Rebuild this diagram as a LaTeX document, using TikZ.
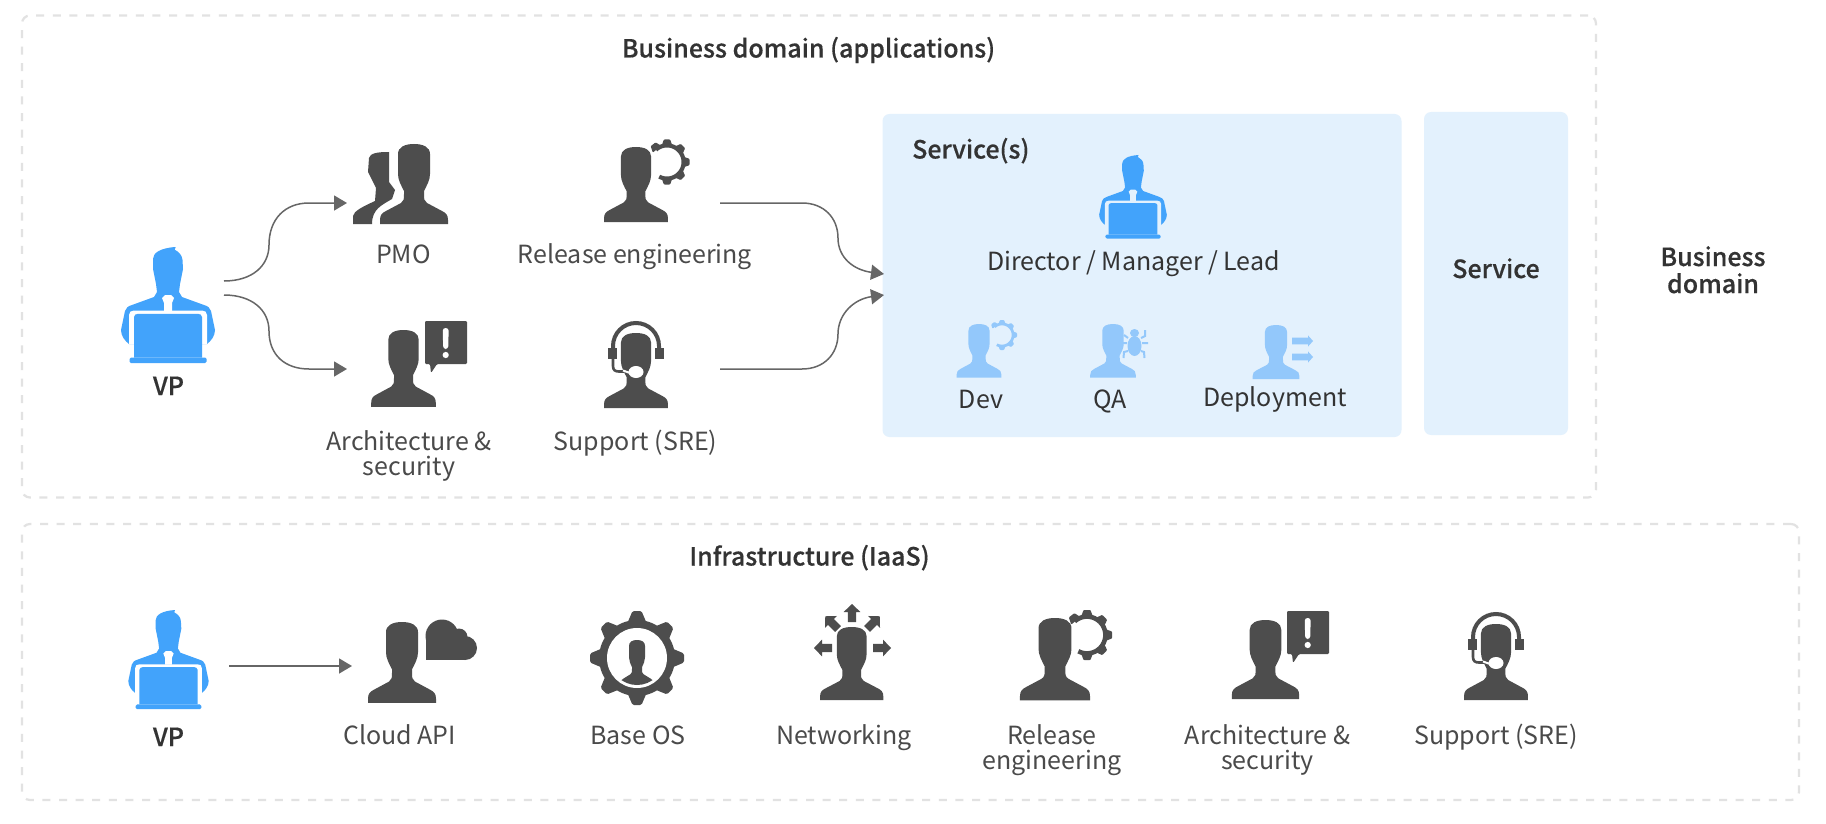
\documentclass[tikz,border=0pt]{standalone}
\usepackage{fontspec}
\setmainfont{Noto Sans CJK SC}
\newfontfamily\headfont[FakeBold=0.4]{Noto Sans CJK SC Medium}
\usetikzlibrary{arrows.meta}
\definecolor{iconDark}{HTML}{4D4D4D}
\definecolor{iconBlue}{HTML}{42A3FB}
\definecolor{iconPale}{HTML}{93C8FB}
\definecolor{panelBlue}{HTML}{E3F1FD}
\definecolor{frameGrey}{HTML}{E2E2E2}
\definecolor{wireGrey}{HTML}{666666}
\definecolor{softText}{HTML}{4A4A4A}
\definecolor{deepText}{HTML}{333333}
\tikzset{
  frame/.style={draw=frameGrey,line width=2.2pt,dash pattern=on 8pt off 8.6pt,rounded corners=8pt,inner sep=0pt,fill=none},
  panel/.style={fill=panelBlue,rounded corners=7pt,inner sep=0pt},
  label/.style={font=\fontsize{25}{25}\selectfont,text=softText,anchor=base,align=center,inner sep=0pt},
  innerlabel/.style={label,text=deepText},
  heading/.style={label,text=deepText,font=\fontsize{25}{27}\selectfont\headfont},
  wire/.style={draw=wireGrey,line width=1.5pt,-{Triangle[length=13pt,width=15pt]}},
  % Head-and-shoulders silhouette, 68 wide and 80 tall, origin at the crown
  pics/person/.style n args={3}{code={
    \fill[#3,xscale=#1,yscale=#2] (-34,80) -- (-34,76) .. controls (-34,71) and (-32,69) .. (-28,67)
      -- (-13,59) .. controls (-10,57) and (-10,55) .. (-10,50) -- (-10,47)
      .. controls (-13,41) and (-16,36) .. (-16,30) -- (-16,10)
      .. controls (-16,3) and (-9,0) .. (0,0) .. controls (9,0) and (16,3) .. (16,10)
      -- (16,30) .. controls (16,36) and (13,41) .. (10,47) -- (10,50)
      .. controls (10,55) and (10,57) .. (13,59) -- (28,67)
      .. controls (32,69) and (34,71) .. (34,76) -- (34,80) -- cycle;
  }},
  % Seated figure behind a laptop, 93 wide and 116 tall, origin at the crown
  pics/laptopman/.style 2 args={code={
    \begin{scope}[scale=#1]
      \fill[iconBlue] (-15,12) .. controls (-15,6) and (-8,1) .. (7.7,0) -- (6.7,2.7)
        .. controls (11,5) and (14,8) .. (14.5,13) -- (15,22) -- (12,37) -- (11,45) -- (14,50)
        -- (36,58) .. controls (40,59) and (42,61) .. (43,64) -- (47,83)
        .. controls (47,89) and (43,94) .. (39,97) -- (-39,97)
        .. controls (-43,94) and (-47,89) .. (-47,83) -- (-43,64)
        .. controls (-42,61) and (-40,59) .. (-36,58) -- (-14,50) -- (-11,45) -- (-12,37)
        -- (-15,22) -- cycle;
      \fill[#2] (-39,97) -- (-39,68) .. controls (-39,65) and (-37,63.5) .. (-34,63.5) -- (34,63.5)
        .. controls (37,63.5) and (39,65) .. (39,68) -- (39,97) -- cycle;
      \fill[#2] (-6,51) -- (-3,48) -- (3,48) -- (6,51) -- (4,56) -- (4,64) -- (-4,64) -- (-4,56) -- cycle;
      \fill[iconBlue] (-34,110.5) -- (-34,70) .. controls (-34,68) and (-32,66.8) .. (-30,66.8)
        -- (30,66.8) .. controls (32,66.8) and (34,68) .. (34,70) -- (34,110.5) -- cycle;
      \fill[iconBlue,rounded corners=1.5pt] (-38.5,110.5) -- (38.5,110.5) -- (38.5,116) -- (-38.5,116) -- cycle;
    \end{scope}
  }},
  % Open gear ring that wraps round a head; radius 25 at scale 1
  pics/gearring/.style 2 args={code={
    \draw[#2,line width=#1*4.6pt,domain=-118:132,samples=50] plot ({18.4*#1*cos(\x)},{-18.4*#1*sin(\x)});
    \begin{scope}[scale=#1]
      \foreach \a in {-90,-45,0,45,90,128}
        \fill[#2,rotate=\a,rounded corners=0.8pt] (18,-6) -- (25,-3.5) -- (25,3.5) -- (18,6) -- cycle;
    \end{scope}
  }},
  % Speech bubble with an exclamation mark; origin at the top-left corner
  pics/alertbubble/.style={code={
    \fill[iconDark,rounded corners=1.2pt] (0,0) -- (42,0) -- (42,43) -- (12,43) -- (6,52) -- (5,43) -- (0,43) -- cycle;
    \fill[white,rounded corners=2.8pt] (17.7,7) -- (23.7,7) -- (23.2,28) -- (18.2,28) -- cycle;
    \fill[white] (20.7,34) circle (3.1);
  }},
  % Headset worn by a 75-tall figure; origin at the crown
  pics/headset/.style={code={
    \draw[iconDark,line width=4pt] (-23,16) -- (-23,13) arc[start angle=180,end angle=360,radius=23] -- (23,16);
    \fill[iconDark] (-28,15) rectangle (-19.3,26);
    \fill[iconDark] (19,15) rectangle (27.5,26);
    \draw[iconDark,line width=2.6pt] (-23,26) -- (-23,33) .. controls (-23,37) and (-21,38.5) .. (-17,38.5) -- (-12,38.5);
    \draw[white,line width=2pt] (-13,37.5) -- (-6,40);
    \fill[white] (0,39) ellipse (7.5 and 6);
  }},
  % Block arrow pointing along +x from the origin
  pics/blockarrow/.style={code={
    \fill[iconDark] (0,-4.2) -- (10,-4.2) -- (10,-8.4) -- (18,0) -- (10,8.4) -- (10,4.2) -- (0,4.2) -- cycle;
  }},
  % Slim arrow of the deployment icon
  pics/slimarrow/.style={code={
    \fill[iconPale] (0,-3.4) -- (16,-3.4) -- (16,-5.6) -- (21,0) -- (16,5.6) -- (16,3.4) -- (0,3.4) -- cycle;
  }},
}
\begin{document}
\begin{tikzpicture}[x=1pt,y=-1pt]
\useasboundingbox (0,0) rectangle (1826,824);
\fill[white] (0,0) rectangle (1826,824);

% Domain frames and service panels
\node[frame,minimum width=1574pt,minimum height=482pt] (bizframe) at (809,256.5) {};
\node[frame,minimum width=1777pt,minimum height=276pt] (infraframe) at (910.5,662) {};
\node[panel,minimum width=519pt,minimum height=323pt] (svcpanel) at (1142,275.5) {};
\node[panel,minimum width=144pt,minimum height=323pt] (svcpanelb) at (1496,273.5) {};

% Business domain: headings
\node[heading] (bizhead) at (808.5,57.5) {Business domain (applications)};
\node[heading,anchor=base west] (svchead) at (912,158.5) {Service(s)};
\node[heading] (svcb) at (1496,278) {Service};
\node[heading] (bizside) at (1713,293) {Business\\domain};

% Business domain: roles on the left
\pic at (168,247) {laptopman={1}{white}};
\node[heading] (vpa) at (168.5,395) {VP};
\fill[iconDark] (353,224) -- (353,216) .. controls (354,211) and (362,207) .. (375,201) -- (376,188)
  -- (368,172) -- (369,158) .. controls (370,153) and (378,152) .. (389,152) -- (389,182) -- (395,190) -- (392,199)
  .. controls (382,205) and (372,209) .. (372,224) -- cycle;
\pic at (414,144) {person={1}{1}{iconDark}};
\node[label] (pmo) at (403.5,263) {PMO};
\pic at (403.5,330) {person={0.95}{0.96}{iconDark}};
\pic at (425,321) {alertbubble};
\node[label] (arch) at (409,475) {Architecture \&\\security};
\pic at (636,147) {person={0.94}{0.94}{iconDark}};
\pic at (667,162) {gearring={0.9}{iconDark}};
\node[label] (rel) at (635,263) {Release engineering};
\pic at (636,333) {person={0.94}{0.94}{iconDark}};
\pic at (636,333) {headset};
\node[label] (sup) at (635.5,450) {Support (SRE)};

% Business domain: service team
\pic at (1133,155) {laptopman={0.72}{panelBlue}};
\node[innerlabel] (dir) at (1133.5,270) {Director / Manager / Lead};
\pic at (979,324) {person={0.66}{0.67}{iconPale}};
\pic at (1002,335) {gearring={0.6}{iconPale}};
\node[innerlabel] (dev) at (981,408) {Dev};
\pic at (1113,324) {person={0.67}{0.67}{iconPale}};
\fill[iconPale] (1134.5,346) ellipse (7 and 10);
\fill[iconPale] (1134.5,333) ellipse (4.5 and 4);
\draw[iconPale,line width=2pt] (1128,338) -- (1124,335) (1141,338) -- (1145,336) -- (1145,330)
  (1127,343) -- (1120,343) (1142,343) -- (1148,343)
  (1128,351) -- (1124,352) -- (1123.5,358) (1141,351) -- (1144,352) -- (1144.5,358);
\node[innerlabel] (qa) at (1110,408) {QA};
\pic at (1276,325) {person={0.69}{0.675}{iconPale}};
\pic at (1292,341) {slimarrow};
\pic at (1292,357) {slimarrow};
\node[innerlabel] (dep) at (1275,406) {Deployment};

% Business domain: connectors
\coordinate (vpup) at (224,281);
\coordinate (vpdown) at (224,295);
\coordinate (pmoin) at (347,203);
\coordinate (archin) at (347,369);
\coordinate (relout) at (720,203);
\coordinate (supout) at (720,369);
\coordinate (svcupper) at (884,274);
\coordinate (svclower) at (884,295);
\draw[wire] (vpup) .. controls (252,281) and (269,266) .. (269,245)
  .. controls (269,219) and (285,203) .. (309,203) -- (pmoin);
\draw[wire] (vpdown) .. controls (252,295) and (269,310) .. (269,331)
  .. controls (269,355) and (285,369) .. (309,369) -- (archin);
\draw[wire] (relout) -- (802,203) .. controls (824,203) and (838,218) .. (838,238)
  .. controls (838,258) and (854,270) .. (svcupper);
\draw[wire] (supout) -- (802,369) .. controls (824,369) and (838,354) .. (838,334)
  .. controls (838,314) and (854,299) .. (svclower);

% Infrastructure row
\node[heading] (infrahead) at (809.5,565.5) {Infrastructure (IaaS)};
\pic at (168.5,610) {laptopman={0.855}{white}};
\node[heading] (vpb) at (168.5,746) {VP};
\coordinate (vpright) at (229,666);
\coordinate (cloudin) at (352,666);
\draw[wire] (vpright) -- (cloudin);

\pic at (402,622) {person={1}{1.01}{iconDark}};
\fill[iconDark] (442,636) circle (16.5);
\fill[iconDark] (459,637) circle (8.5);
\fill[iconDark] (465,648) circle (12);
\fill[iconDark] (425.5,638) rectangle (465,660);
\node[label] (cloud) at (399.5,744) {Cloud API};

\fill[iconDark] (637,658) circle (38);
\foreach \a in {0,45,...,315}
  \fill[iconDark,shift={(637,658)},rotate=\a,rounded corners=1.5pt] (34,-10) -- (47,-4.5) -- (47,4.5) -- (34,10) -- cycle;
\fill[white] (637,658) circle (30);
\begin{scope}
  \clip (637,658) circle (27);
  \pic at (637,640) {person={0.5}{0.58}{iconDark}};
\end{scope}
\node[label] (os) at (638,744) {Base OS};

\pic at (851.7,627) {person={0.93}{0.915}{iconDark}};
\pic[rotate=90] at (852,622) {blockarrow};
\pic[rotate=180] at (832,648) {blockarrow};
\pic at (873,648) {blockarrow};
\pic[rotate=135] at (838,629) {blockarrow};
\pic[rotate=45] at (867,629) {blockarrow};
\node[label] (net) at (844,744) {Networking};

\pic at (1055,618) {person={1.03}{1.03}{iconDark}};
\pic at (1087,635) {gearring={1}{iconDark}};
\node[label] (relb) at (1052,769) {Release\\engineering};

\pic at (1265.5,620) {person={0.99}{0.99}{iconDark}};
\pic at (1287,611) {alertbubble};
\node[label] (archb) at (1267.5,769) {Architecture \&\\security};

\pic at (1496,624) {person={0.94}{0.95}{iconDark}};
\pic at (1496,624) {headset};
\node[label] (supb) at (1496,744) {Support (SRE)};
\end{tikzpicture}
\end{document}
